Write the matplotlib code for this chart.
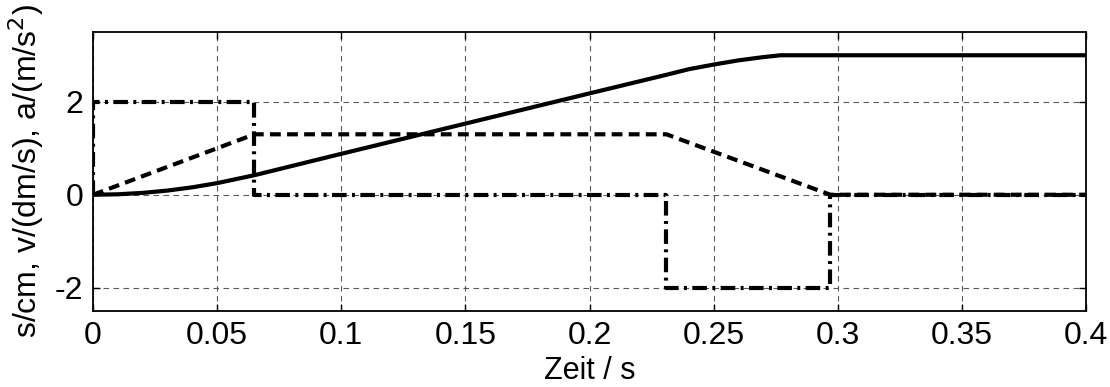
import matplotlib
matplotlib.use("Agg")
import matplotlib.pyplot as plt

plt.rcParams['font.family'] = ['Liberation Sans', 'DejaVu Sans']

# Position s / cm
t_s = [0.0, 0.01, 0.02, 0.03, 0.04, 0.05, 0.065, 0.1, 0.15, 0.2, 0.231, 0.24, 0.25, 0.26, 0.27, 0.277, 0.4]
s_cm = [0.0, 0.01, 0.04, 0.09, 0.16, 0.25, 0.42, 0.88, 1.53, 2.18, 2.58, 2.70, 2.80, 2.89, 2.96, 3.0, 3.0]

# Velocity v / (dm/s)
t_v = [0.0, 0.065, 0.231, 0.297, 0.4]
v_dms = [0.0, 1.3, 1.3, 0.0, 0.0]

# Acceleration a / (m/s^2)
t_a = [0.0, 0.0, 0.065, 0.065, 0.231, 0.231, 0.297, 0.297, 0.4]
a_ms2 = [0.0, 2.0, 2.0, 0.0, 0.0, -2.0, -2.0, 0.0, 0.0]

x_ticks = [0, 0.05, 0.1, 0.15, 0.2, 0.25, 0.3, 0.35, 0.4]
x_ticklabels = ['0', '0.05', '0.1', '0.15', '0.2', '0.25', '0.3', '0.35', '0.4']
y_ticks = [-2, 0, 2]
y_ticklabels = ['-2', '0', '2']

fig = plt.figure(figsize=(11.1, 3.87), dpi=100)
ax = fig.add_axes([93/1110, 1-311/387, (1086-93)/1110, (311-32)/387])

ax.plot(t_s, s_cm, color='black', lw=3.0, linestyle='-', solid_capstyle='butt')
ax.plot(t_v, v_dms, color='black', lw=3.0, linestyle=(0, (2.6, 1.5)))
ax.plot(t_a, a_ms2, color='black', lw=3.0, linestyle=(0, (3.5, 1.3, 0.7, 1.3)))

ax.set_xlim(0, 0.4)
ax.set_ylim(-2.5, 3.5)
ax.set_xticks(x_ticks)
ax.set_xticklabels(x_ticklabels)
ax.set_yticks(y_ticks)
ax.set_yticklabels(y_ticklabels)

ax.grid(True, color='0.35', linestyle=(0, (5, 4)), linewidth=0.8)
ax.tick_params(direction='in', top=True, right=True, labelsize=23, length=5, width=1, pad=7)
for sp in ax.spines.values():
    sp.set_linewidth(1.3)

ax.set_xlabel('Zeit / s', fontsize=22, labelpad=4)
ax.set_ylabel('s/cm, v/(dm/s), a/(m/s$^2$)', fontsize=23, labelpad=6)

fig.savefig('out.png', dpi=100)
